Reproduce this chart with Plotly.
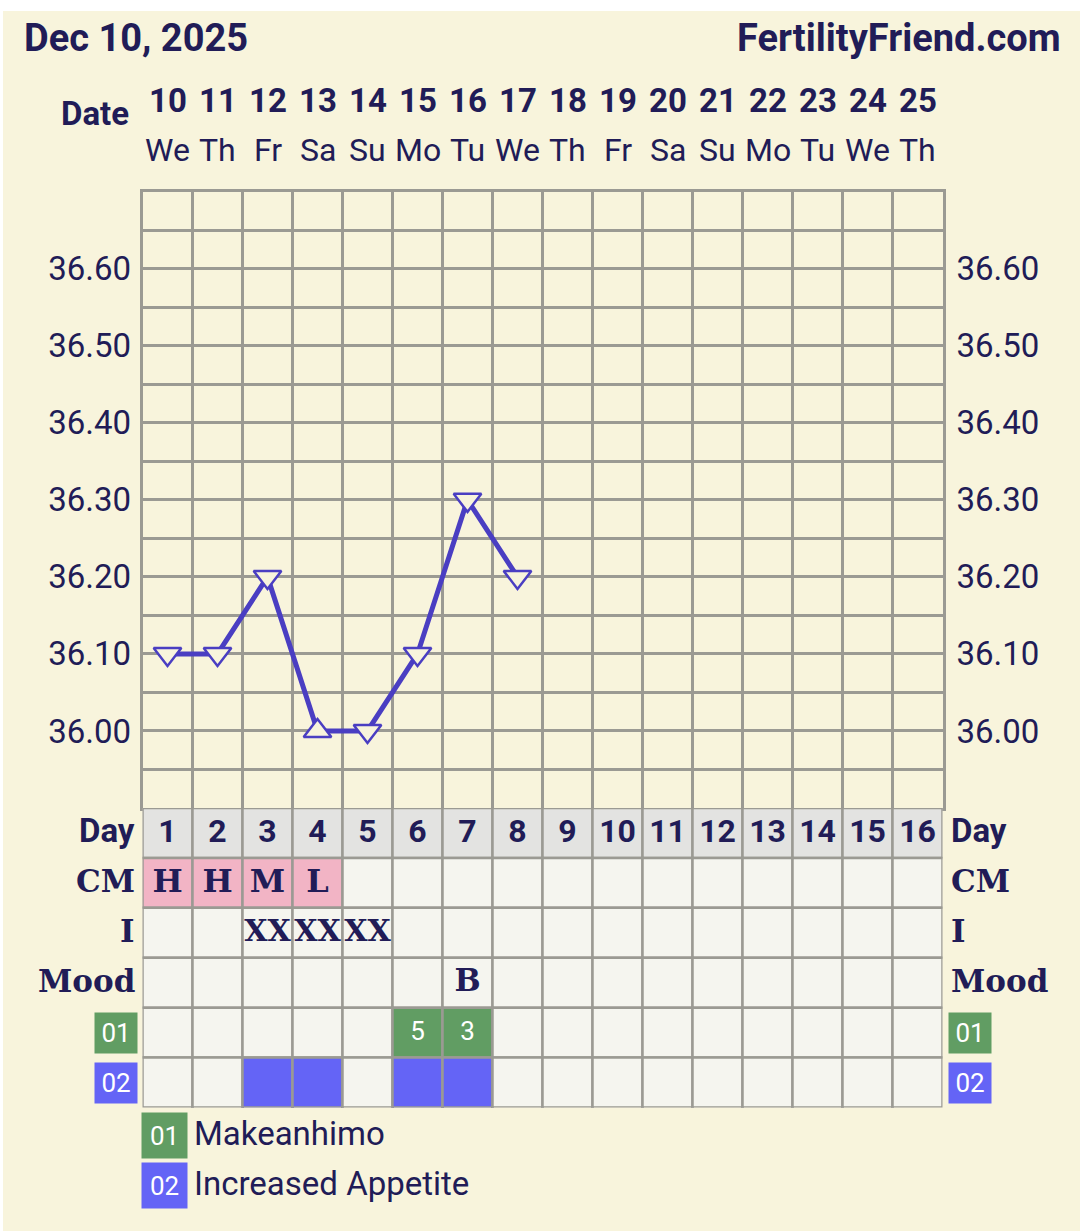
import plotly.graph_objects as go

# ---------------- data ----------------
cycle_days = list(range(1, 17))
date_nums = [str(d) for d in range(10, 26)]
weekdays = ["We", "Th", "Fr", "Sa", "Su", "Mo", "Tu", "We", "Th", "Fr", "Sa", "Su", "Mo", "Tu", "We", "Th"]

temp_days = [1, 2, 3, 4, 5, 6, 7, 8]
temps = [36.10, 36.10, 36.20, 36.00, 36.00, 36.10, 36.30, 36.20]
temp_symbols = ["triangle-down", "triangle-down", "triangle-down", "triangle-up",
                "triangle-down", "triangle-down", "triangle-down", "triangle-down"]

temp_ticks = [36.00, 36.10, 36.20, 36.30, 36.40, 36.50, 36.60]
temp_grid = [35.90 + 0.05 * i for i in range(17)]

row_labels = ["Day", "CM", "I", "Mood", "01", "02"]

cm_days = [1, 2, 3, 4]
cm_vals = ["H", "H", "M", "L"]

int_days = [3, 4, 5]
int_vals = ["XX", "XX", "XX"]

mood_days = [7]
mood_vals = ["B"]

c01_days = [6, 7]
c01_vals = ["5", "3"]

c02_days = [3, 4, 6, 7]

legend_codes = ["01", "02"]
legend_names = ["Makeanhimo", "Increased Appetite"]

# ---------------- style ----------------
W, H = 1080, 1231
BG = "#f8f4dc"
NAVY = "#211c57"
GRID = "#9b9a93"
CELL = "#f5f5ef"
DAYROW = "#e3e3e1"
PINK = "#f2b4c5"
GREEN = "#619d63"
BLUE = "#6464f6"
LINE = "#4a3ec2"
SANS = "Roboto"
SLAB = "DejaVu Serif"

X0, X1 = 142.5, 942.5
TEMP_TOP, TEMP_BOT = 191.7, 808.0
TAB_BOT = 1107.5


def py(px):
    return 1 - px / H


def pxx(px):
    return px / W


fig = go.Figure()

# temperature line
fig.add_trace(go.Scatter(
    x=temp_days, y=temps, mode="lines+markers",
    line=dict(color=LINE, width=5),
    marker=dict(symbol=temp_symbols, size=24, color=BG,
                line=dict(color=LINE, width=2.5)),
    hoverinfo="skip", showlegend=False, xaxis="x", yaxis="y",
))

# table cells
shapes = []
fills = {}
for r in range(6):
    for d in cycle_days:
        fills[(r, d)] = DAYROW if r == 0 else CELL
for d in cm_days:
    fills[(1, d)] = PINK
for d in c01_days:
    fills[(4, d)] = GREEN
for d in c02_days:
    fills[(5, d)] = BLUE
for (r, d), col in fills.items():
    shapes.append(dict(type="rect", xref="x", yref="y2",
                       x0=d - 0.5, x1=d + 0.5, y0=r, y1=r + 1,
                       fillcolor=col, line=dict(color=GRID, width=2.5),
                       layer="between"))

# white strip at top / left edge
shapes.append(dict(type="rect", xref="paper", yref="paper", x0=0, x1=1,
                   y0=py(11), y1=1, fillcolor="white", line=dict(width=0)))
shapes.append(dict(type="rect", xref="paper", yref="paper", x0=0, x1=pxx(3),
                   y0=0, y1=1, fillcolor="white", line=dict(width=0)))


# texts in cells
def cell_text(xs, row, texts, family, size, color=NAVY, weight="bold"):
    fig.add_trace(go.Scatter(
        x=xs, y=[row + 0.52] * len(xs), text=texts, mode="text",
        textposition="middle center",
        textfont=dict(family=family, size=size, color=color, weight=weight),
        hoverinfo="skip", showlegend=False, xaxis="x", yaxis="y2",
        cliponaxis=False,
    ))


cell_text(cycle_days, 0, [str(d) for d in cycle_days], SANS, 32)
cell_text(cm_days, 1, cm_vals, SLAB, 32)
cell_text(int_days, 2, int_vals, SLAB, 30)
cell_text(mood_days, 3, mood_vals, SLAB, 31)
cell_text(c01_days, 4, c01_vals, SANS, 26, color="white", weight="normal")

annotations = []
# title texts
annotations.append(dict(text="Dec 10, 2025", xref="paper", yref="paper",
                        x=pxx(22), y=py(38), xanchor="left", yanchor="middle",
                        showarrow=False,
                        font=dict(family=SANS, size=38, color=NAVY, weight="bold")))
annotations.append(dict(text="FertilityFriend.com", xref="paper", yref="paper",
                        x=pxx(1063), y=py(38), xanchor="right", yanchor="middle",
                        showarrow=False,
                        font=dict(family=SANS, size=38, color=NAVY, weight="bold")))
annotations.append(dict(text="Date", xref="paper", yref="paper",
                        x=pxx(131), y=py(114), xanchor="right", yanchor="middle",
                        showarrow=False,
                        font=dict(family=SANS, size=33, color=NAVY, weight="bold")))
# header dates and weekdays
for d, num, wd in zip(cycle_days, date_nums, weekdays):
    annotations.append(dict(text=num, xref="x", yref="paper", x=d, y=py(100),
                            xanchor="center", yanchor="middle", showarrow=False,
                            font=dict(family=SANS, size=33, color=NAVY, weight="bold")))
    annotations.append(dict(text=wd, xref="x", yref="paper", x=d, y=py(150),
                            xanchor="center", yanchor="middle", showarrow=False,
                            font=dict(family=SANS, size=32, color=NAVY)))

# row labels both sides
for r, lab in enumerate(row_labels):
    yv = r + 0.5
    if lab in ("01", "02"):
        col = GREEN if lab == "01" else BLUE
        for xa, anc in ((pxx(137.5), "right"), (pxx(948), "left")):
            annotations.append(dict(text=lab, xref="paper", yref="y2", x=xa, y=yv,
                                    xanchor=anc, yanchor="middle", showarrow=False,
                                    width=42, height=40, bgcolor=col, borderpad=0,
                                    align="center",
                                    font=dict(family=SANS, size=26, color="white")))
    else:
        fam = SANS if lab == "Day" else SLAB
        size = 33 if lab == "Day" else 31
        for xa, anc in ((pxx(137), "right"), (pxx(949), "left")):
            annotations.append(dict(text=lab, xref="paper", yref="y2", x=xa, y=yv - 0.04,
                                    xanchor=anc, yanchor="middle", showarrow=False,
                                    font=dict(family=fam, size=size, color=NAVY, weight="bold")))

# legend at bottom
for i, (code, name) in enumerate(zip(legend_codes, legend_names)):
    col = GREEN if code == "01" else BLUE
    yc = 1135.5 + 50 * i
    annotations.append(dict(text=code, xref="paper", yref="paper", x=pxx(141), y=py(yc),
                            xanchor="left", yanchor="middle", showarrow=False,
                            width=45, height=45, bgcolor=col, borderpad=0, align="center",
                            font=dict(family=SANS, size=26, color="white")))
    annotations.append(dict(text=name, xref="paper", yref="paper", x=pxx(192), y=py(yc - 2),
                            xanchor="left", yanchor="middle", showarrow=False,
                            font=dict(family=SANS, size=33, color=NAVY)))

tick_text = ["%.2f" % v if any(abs(v - t) < 1e-6 for t in temp_ticks) else "" for v in temp_grid]

fig.update_layout(
    width=W, height=H,
    margin=dict(l=0, r=0, t=0, b=0),
    paper_bgcolor=BG, plot_bgcolor=BG,
    showlegend=False,
    shapes=shapes,
    annotations=annotations,
    xaxis=dict(domain=[pxx(X0), pxx(X1)], range=[0.5, 16.5], anchor="y",
               tickmode="array", tickvals=[d + 0.5 for d in range(0, 17)],
               showticklabels=False, ticks="", showgrid=True,
               gridcolor=GRID, gridwidth=2.5, zeroline=False,
               showline=True, linecolor=GRID, linewidth=2.5, mirror=True),
    yaxis=dict(domain=[py(TEMP_BOT), py(TEMP_TOP)], range=[35.90, 36.70], anchor="x",
               tickmode="array", tickvals=temp_grid, ticktext=tick_text,
               ticks="", ticklabelstandoff=2, showgrid=True, gridcolor=GRID, gridwidth=2.5,
               zeroline=False, showline=True, linecolor=GRID, linewidth=2.5, mirror=True,
               tickfont=dict(family=SANS, size=33, color=NAVY)),
    yaxis3=dict(overlaying="y", side="right", anchor="x", range=[35.90, 36.70],
                tickmode="array", tickvals=temp_grid, ticktext=tick_text,
                ticks="", ticklabelstandoff=13, showgrid=False, zeroline=False,
                showline=False, tickfont=dict(family=SANS, size=33, color=NAVY)),
    yaxis2=dict(domain=[py(TAB_BOT), py(TEMP_BOT)], range=[6, 0], anchor="x",
                showticklabels=False, showgrid=False, zeroline=False, ticks=""),
)

fig.add_trace(go.Scatter(x=[None], y=[None], yaxis="y3", xaxis="x", showlegend=False))

fig.write_html("out.html", config={"displayModeBar": False},
               post_script="document.body.style.margin='0';document.body.style.padding='0';")
